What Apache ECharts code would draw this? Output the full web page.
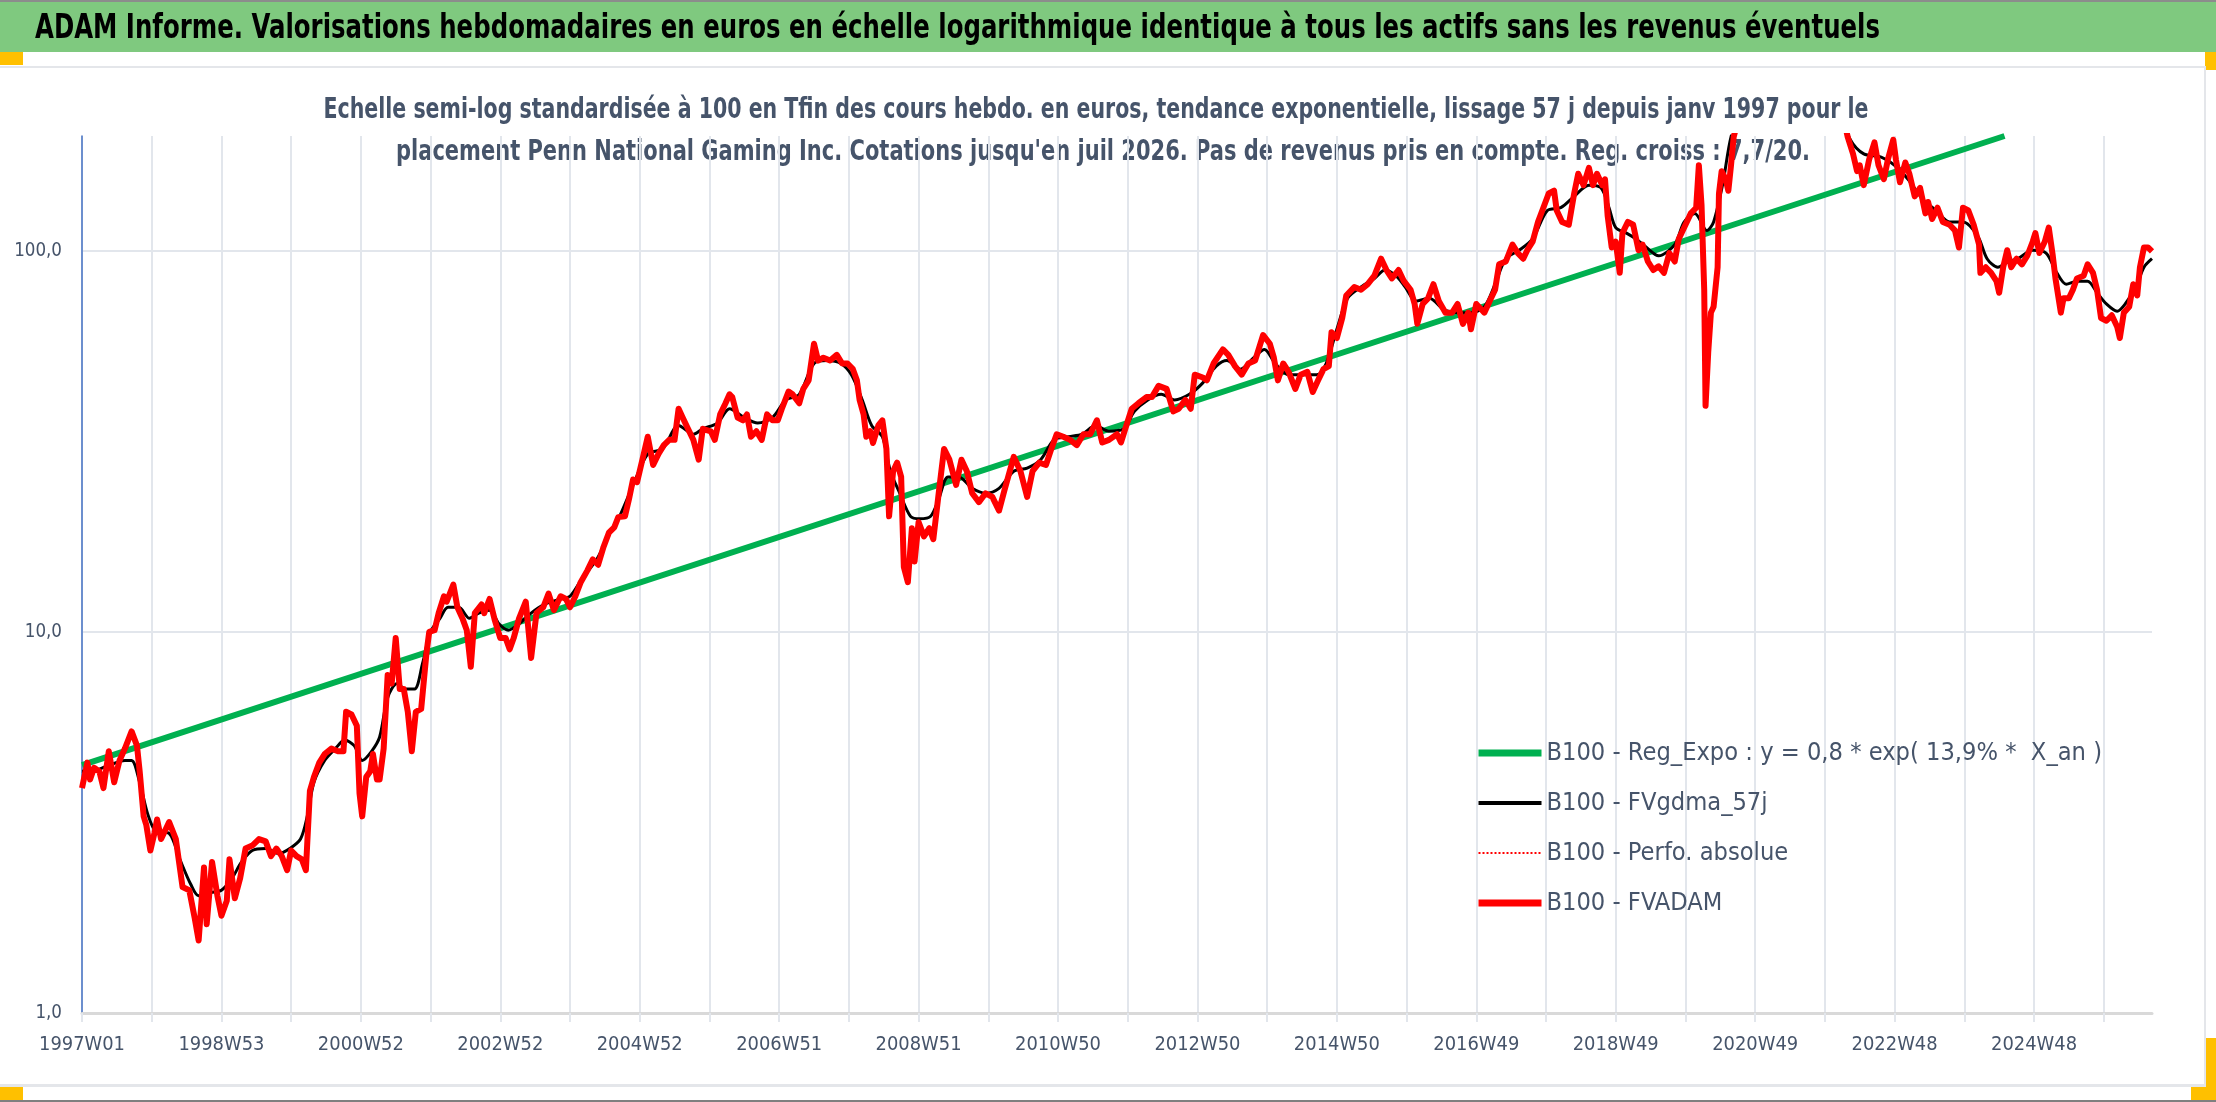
<!DOCTYPE html>
<html>
<head>
<meta charset="utf-8">
<script src="https://cdn.jsdelivr.net/npm/echarts@6/dist/echarts.min.js"></script>
<style>
html,body{margin:0;padding:0;background:#fff;}
#chart{width:2216px;height:1102px;}
</style>
</head>
<body>
<div id="chart"></div>
<script>
// ---- DATA (week index from 1997W01, value base 100) ----
const titleText = "ADAM Informe. Valorisations hebdomadaires en euros en échelle logarithmique identique à tous les actifs sans les revenus éventuels";
const subLine1 = "Echelle semi-log standardisée à 100 en Tfin des cours hebdo. en euros, tendance exponentielle, lissage 57 j depuis janv 1997 pour le";
const subLine2 = "placement Penn National Gaming Inc. Cotations jusqu'en juil 2026. Pas de revenus pris en compte. Reg. croiss : 7,7/20.";
const seriesNames = [
  "B100 - Reg_Expo : y = 0,8 * exp( 13,9% *  X_an )",
  "B100 - FVgdma_57j",
  "B100 - Perfo. absolue",
  "B100 - FVADAM"
];
const weekCount = 1545;
const firstMonday = [1996, 11, 30];

const regExpo = [[0, 4.47], [1434, 200]];

const fvgdma = [
[0,4.31],[6,4.3],[19,4.45],[32,4.6],[37,4.6],[43,4.03],[49,3.33],[55,3.0],[65,2.96],[73,2.53],[81,2.18],[87,2.03],[96,2.07],[104,2.1],[112,2.26],[119,2.49],[127,2.67],[137,2.7],[147,2.62],[155,2.7],[163,2.86],[168,3.28],[173,4.03],[181,4.6],[189,4.94],[196,5.2],[203,5.03],[209,4.6],[216,4.86],[222,5.3],[228,6.72],[235,7.32],[241,7.08],[248,7.08],[254,8.26],[260,10],[267,10.85],[273,11.6],[281,11.6],[289,10.85],[296,11.2],[304,11.4],[311,10.5],[318,10.1],[326,10.5],[335,11.2],[345,11.8],[357,12.2],[364,12.4],[373,13.8],[384,15.5],[394,18.2],
[399,19.4],[412,24.7],[422,29.3],[433,30.2],[445,34.8],[456,33.0],[463,34.1],[474,35.3],[483,38.5],[494,36.5],[504,35.3],[515,36.5],[525,40.6],[535,42.0],[546,50.6],[556,51.5],[566,50.6],[574,47.2],[582,40.6],[589,34.8],[597,32.5],[603,26.4],[610,23.1],[618,20.1],[625,19.8],[633,20.1],[639,22.3],[646,25.5],[654,25.5],[664,23.8],[674,23.1],[684,23.8],[695,26.4],[705,26.9],[715,28.3],[725,31.9],[736,32.5],[746,33.0],[756,34.8],[766,33.6],[777,34.1],
[785,37.9],[795,40.6],[805,42.0],[815,40.6],[826,42],[836,45],[846,49.8],[854,51.5],[864,48.9],[874,52.4],[882,55.1],[890,50.6],[900,47.3],[910,47.3],[921,47.3],[928,50.6],[936,62.2],[944,75],[954,80.3],[964,84.6],[972,89],[980,86],[987,80.3],[995,73.8],[1005,75],[1016,70],[1026,68.8],[1036,68.8],[1046,71.3],[1054,81.7],[1062,95.3],[1072,100.3],[1082,107.4],[1093,127.5],[1103,129.7],[1113,138.9],[1124,148.6],[1133,146.2],[1139,129.7],[1144,115],[1152,111.2],[1159,107.4],[1167,102],[1176,97],
[1188,103.8],[1195,119],[1203,125.3],[1212,113],[1217,119],[1224,151],[1230,199],[1240,250],[1255,320],[1270,370],[1285,360],[1300,300],[1312,230],[1319,195.5],[1329,179.5],[1342,176],[1352,167.6],[1362,154],[1373,136.5],[1383,127.5],[1393,119],[1403,119],[1414,109.3],[1421,95.3],[1429,90.5],[1437,93.7],[1444,95.3],[1455,100.3],[1465,98.6],[1473,87.5],[1480,81.7],[1488,83.2],[1496,83.2],[1503,77.6],[1510,72.5],[1518,69.4],[1524,72.5],[1532,80.3],[1538,90.5],[1544,95.3]
];

const fvadam = [
[0,3.89],[4,4.54],[6,4.1],[9,4.4],[13,4.3],[16,3.89],[20,4.86],[24,4.03],[28,4.6],[32,4.94],[37,5.48],[41,5.03],[43,4.31],[46,3.28],[48,3.11],[51,2.67],[54,2.96],[56,3.22],[59,2.86],[65,3.17],[70,2.86],[75,2.14],[80,2.1],[84,1.78],[87,1.55],[91,2.41],[93,1.71],[97,2.49],[101,2.03],[104,1.8],[108,1.97],[110,2.53],[114,2.0],[118,2.26],[122,2.7],[127,2.75],[132,2.86],[137,2.82],[141,2.58],[145,2.7],[149,2.58],[153,2.37],[156,2.67],[160,2.58],[164,2.53],[167,2.37],[170,3.83],[173,4.16],[177,4.54],[181,4.78],[186,4.94],[191,4.86],[195,4.86],[197,6.17],[201,6.07],[205,5.67],[207,3.77],[209,3.28],[212,4.16],[215,4.31],[217,4.78],[220,4.1],[222,4.1],[225,4.94],[228,7.71],[231,7.32],[234,9.63],[237,7.08],[240,7.08],[243,6.17],[246,4.86],[249,6.17],[253,6.28],[257,8.84],[259,10],[263,10.1],[266,11.2],[270,12.4],[272,12.0],[277,13.3],[280,11.6],[284,10.8],[287,10.1],[290,8.1],[293,11.2],[298,11.8],[300,11.2],[304,12.2],[308,10.7],[312,9.63],[316,9.63],[319,9.0],[322,9.63],[326,10.85],[331,12.0],[335,8.54],[339,11.2],[344,11.6],[348,12.6],[352,11.4],[357,12.4],[361,12.2],[364,11.6],[368,12.4],[372,13.5],[377,14.5],[381,15.5],[385,15.0],[389,16.7],[393,18.2],[397,18.8],[400,20.0],
[405,20.1],[408,22.3],[411,25.1],[414,24.7],[418,28.3],[422,32.5],[426,27.4],[430,29.3],[434,30.9],[438,31.9],[442,31.9],[445,38.5],[448,36.5],[452,34.1],[456,31.9],[460,28.3],[463,34.1],[469,33.6],[472,31.9],[476,37.2],[480,39.8],[483,42.0],[485,41.3],[489,36.5],[493,35.9],[496,37.2],[499,32.5],[503,33.6],[507,31.9],[511,37.2],[515,35.9],[519,35.9],[522,38.5],[527,42.7],[530,42.0],[535,39.8],[538,43.4],[542,45.7],[546,57.0],[549,51.5],[553,52.4],[558,51.5],[563,53.3],[567,50.6],[571,50.6],[575,48.9],[578,45.7],[580,40.6],[583,37.2],[585,32.5],[588,33.6],[590,31.3],[594,34.8],[597,35.9],[600,30.2],[602,20.1],[605,26.4],[608,27.8],[611,25.5],[613,14.8],[616,13.5],[619,18.7],[621,15.3],[624,19.4],[628,17.8],[632,18.7],[635,17.5],[639,23.1],[643,30.2],[647,28.3],[652,24.3],[656,28.3],[660,26.4],[664,23.1],[669,21.9],[674,23.1],[679,22.6],[684,20.8],[688,23.5],[695,28.8],[700,26.4],[705,22.6],[709,26.4],[714,27.8],[719,27.4],[723,30.2],[727,33.0],[732,32.5],[737,31.9],[742,30.9],[747,33.0],[752,33.0],[757,35.9],[761,31.4],[766,31.9],[772,33.0],[775,31.4],[779,34.8],[783,38.5],[788,39.8],
[794,41.3],[798,41.3],[803,44.2],[809,43.4],[814,37.9],[818,38.5],[823,40.6],[827,38.5],[830,47.3],[836,46.5],[839,45.7],[844,50.6],[851,55.1],[855,53.3],[860,49.8],[865,47.3],[870,50.6],[875,51.5],[881,60.1],[886,57.0],[889,52.4],[892,45.7],[896,50.6],[900,48.1],[905,43.4],[909,47.3],[914,48.1],[918,42.6],[922,45.7],[926,48.9],[930,49.8],[932,61.1],[936,59.0],[940,66.6],[943,76.3],[949,80.3],[954,79.0],[959,81.7],[964,86.0],[969,95.3],[973,89.0],[977,84.6],[982,89.0],[986,83.2],[991,79.0],[994,72.5],[996,64.3],[1000,72.5],[1004,75.0],[1008,81.7],[1012,73.8],[1017,68.8],[1022,68.8],[1026,72.5],[1030,64.3],[1034,68.8],[1036,62.2],[1040,72.5],[1044,70.0],[1046,68.8],[1050,73.8],[1054,79.0],[1057,92.1],[1062,93.7],[1067,103.8],[1071,98.6],[1075,95.3],[1078,100.3],[1082,105.6],[1086,119],[1090,129.7],[1094,141.3],[1098,143.7],[1100,127.5],[1104,119],[1109,117],[1113,141.3],[1116,159.2],[1120,148.6],[1124,164.9],[1127,148.6],[1130,159.2],[1134,148.6],[1136,154],[1138,123.2],[1141,102],[1144,105.6],[1147,87.5],[1149,111.2],[1153,119],[1157,117],[1161,100.3],
[1164,103.8],[1168,93.7],[1172,89],[1176,91],[1180,87.5],[1184,98.6],[1188,93.7],[1191,107.4],[1197,119],[1200,125.3],[1204,129.7],[1206,167.6],[1208,131.9],[1210,79],[1211,39.2],[1213,54.2],[1215,68.8],[1217,71.3],[1220,90.5],[1221,141.3],[1223,161.7],[1226,154],[1228,143.7],[1230,167.6],[1232,199],[1238,240],[1248,290],[1258,360],[1266,420],[1274,380],[1282,430],[1290,390],[1298,340],[1306,300],[1312,240],[1317,199],[1321,179.5],[1324,161.7],[1326,167.6],[1329,148.6],[1333,173.5],[1337,192.4],[1340,167.6],[1344,154],[1347,173.5],[1351,195.5],[1353,173.5],[1356,151.3],[1360,170.4],[1363,159.2],[1367,138.9],[1371,146.2],[1375,125.3],[1377,134.2],[1380,121.1],[1384,129.7],[1388,119],[1393,117],[1397,113.1],[1400,102],[1403,129.7],[1407,127.5],[1411,117],[1415,103.8],[1416,87.5],[1420,90.5],[1424,87.5],[1428,83.2],[1430,77.6],[1433,90.5],[1436,100.3],[1439,90.5],[1443,95.3],[1447,92.1],[1451,97],[1455,105.6],[1457,111.2],[1460,98.6],[1464,105.6],[1467,115],[1470,97],[1472,84.6],[1476,68.8],[1478,75],[1482,75],[1485,79],[1488,84.6],[1493,86],[1496,92.1],[1500,87.5],[1503,79],[1506,66.6],[1510,65.5],[1514,67.7],[1518,63.2],[1520,59],[1523,68.8],[1527,71.3],[1530,81.7],[1533,76.3],[1535,90.5],[1538,102],[1541,102],[1544,99.6]
];

// ---- ISO week category labels ----
function isoWeekLabel(ms) {
  const t = new Date(ms);
  const day = t.getUTCDay() || 7;
  t.setUTCDate(t.getUTCDate() + 4 - day);
  const y = t.getUTCFullYear();
  const start = Date.UTC(y, 0, 1);
  const wk = Math.ceil(((t.getTime() - start) / 86400000 + 1) / 7);
  return y + 'W' + String(wk).padStart(2, '0');
}
const categories = [];
const base = Date.UTC(firstMonday[0], firstMonday[1], firstMonday[2]);
for (let i = 0; i < weekCount; i++) categories.push(isoWeekLabel(base + i * 7 * 86400000));

// ---- text fitting helpers ----
const FONT = "'Liberation Sans Narrow','Arial Narrow','DejaVu Sans Condensed',sans-serif";
const mctx = document.createElement('canvas').getContext('2d');
function textW(txt, weight, size) { mctx.font = weight + ' ' + size + 'px ' + FONT; return mctx.measureText(txt).width; }
function fitSize(txt, weight, target) { return Math.round(100 * target / textW(txt, weight, 100) * 10) / 10; }

const xLabSize = fitSize('1997W01', 'normal', 86);
const yLabSize = fitSize('100,0', 'normal', 48);
const legSize = fitSize(seriesNames[0], 'normal', 556);
const titleSize = 34, subSize = 28;
const titleScale = 1845 / textW(titleText, 'bold', titleSize);
const sub1Scale = 1545 / textW(subLine1, 'bold', subSize);
const sub2Scale = 1414 / textW(subLine2, 'bold', subSize);

// ---- CHART ----
const textCol = '#46546a';
const gridCol = '#e2e6ec';
const chart = echarts.init(document.getElementById('chart'), null, {renderer: 'canvas'});

chart.setOption({
  animation: false,
  backgroundColor: '#ffffff',
  graphic: [
    {type:'rect', z:0, shape:{x:0,y:0,width:2216,height:52}, style:{fill:'#7fc97f'}},
    {type:'rect', z:0, shape:{x:0,y:0,width:2216,height:2}, style:{fill:'#8c8c8c'}},
    {type:'rect', z:0, shape:{x:0,y:52,width:23,height:13}, style:{fill:'#ffc000'}},
    {type:'rect', z:0, shape:{x:2205,y:52,width:11,height:18}, style:{fill:'#ffc000'}},
    {type:'rect', z:0, shape:{x:0,y:66,width:2206,height:2}, style:{fill:'#e4e6ea'}},
    {type:'rect', z:0, shape:{x:2204,y:66,width:2,height:1020}, style:{fill:'#e4e6ea'}},
    {type:'rect', z:0, shape:{x:0,y:1084,width:2206,height:3}, style:{fill:'#e4e6ea'}},
    {type:'rect', z:0, shape:{x:0,y:1087,width:23,height:13}, style:{fill:'#ffc000'}},
    {type:'rect', z:0, shape:{x:2206,y:1038,width:10,height:62}, style:{fill:'#ffc000'}},
    {type:'rect', z:0, shape:{x:2191,y:1087,width:25,height:13}, style:{fill:'#ffc000'}},
    {type:'rect', z:0, shape:{x:0,y:1100,width:2216,height:2}, style:{fill:'#7f7f7f'}},
    {type:'text', z:0, x:35, y:29, scaleX: titleScale, originX: 0,
      style:{text:titleText, fill:'#000', font:"bold " + titleSize + "px " + FONT, textVerticalAlign:'middle'}},
    {type:'text', z:0, x:1096, y:111, scaleX: sub1Scale, originX: 0,
      style:{text:subLine1, fill:textCol, font:"bold " + subSize + "px " + FONT, textAlign:'center', textVerticalAlign:'middle'}},
    {type:'text', z:0, x:1103, y:153, scaleX: sub2Scale, originX: 0,
      style:{text:subLine2, fill:textCol, font:"bold " + subSize + "px " + FONT, textAlign:'center', textVerticalAlign:'middle'}}
  ],
  grid: {left: 82, right: 64, top: 136, bottom: 89, containLabel: false},
  legend: {
    orient: 'vertical', left: 1470, top: 733,
    itemWidth: 63, itemHeight: 2, itemGap: 20,
    itemStyle: {opacity: 0},
    textStyle: {fontFamily: FONT, fontSize: legSize, color: textCol, lineHeight: 30},
    data: [
      {name: seriesNames[0], lineStyle: {width: 7, color: '#00b050'}},
      {name: seriesNames[1], lineStyle: {width: 4, color: '#000000'}},
      {name: seriesNames[2], lineStyle: {width: 2, color: '#ff0000', type: 'dotted'}},
      {name: seriesNames[3], lineStyle: {width: 7, color: '#ff0000'}}
    ]
  },
  xAxis: {
    type: 'category', data: categories, boundaryGap: false,
    axisLine: {show: true, lineStyle: {color: '#d9d9d9', width: 3}},
    axisTick: {show: true, interval: 51, length: 9, lineStyle: {color: gridCol, width: 2}},
    axisLabel: {interval: 103, margin: 22, fontFamily: FONT, fontSize: xLabSize, color: textCol},
    splitLine: {show: true, interval: 51, lineStyle: {color: gridCol, width: 2}}
  },
  yAxis: {
    type: 'log', logBase: 10, min: 1, max: 200,
    axisLine: {show: true, lineStyle: {color: '#4472c4', width: 1.5}},
    axisTick: {show: false},
    axisLabel: {margin: 20, fontFamily: FONT, fontSize: yLabSize, color: textCol, showMaxLabel: false,
      formatter: v => (Math.abs(Math.log10(v) - Math.round(Math.log10(v))) < 1e-6) ? v.toFixed(1).replace('.', ',') : ''},
    splitLine: {show: true, showMaxLine: false, lineStyle: {color: gridCol, width: 2}}
  },
  series: [
    {name: seriesNames[0], type: 'line', data: regExpo, symbol: 'none', z: 3, clip: true,
      lineStyle: {color: '#00b050', width: 6}, itemStyle: {color: '#00b050'}},
    {name: seriesNames[1], type: 'line', data: fvgdma, symbol: 'none', z: 3, clip: true, smooth: 0.3,
      lineStyle: {color: '#000000', width: 3}, itemStyle: {color: '#000000'}},
    {name: seriesNames[2], type: 'line', data: [], symbol: 'none', z: 3, clip: true,
      lineStyle: {color: '#ff0000', width: 2, type: 'dotted'}, itemStyle: {color: '#ff0000'}},
    {name: seriesNames[3], type: 'line', data: fvadam, symbol: 'none', z: 3, clip: true,
      lineStyle: {color: '#ff0000', width: 6, join: 'round'}, itemStyle: {color: '#ff0000'}}
  ]
});
</script>
</body>
</html>
